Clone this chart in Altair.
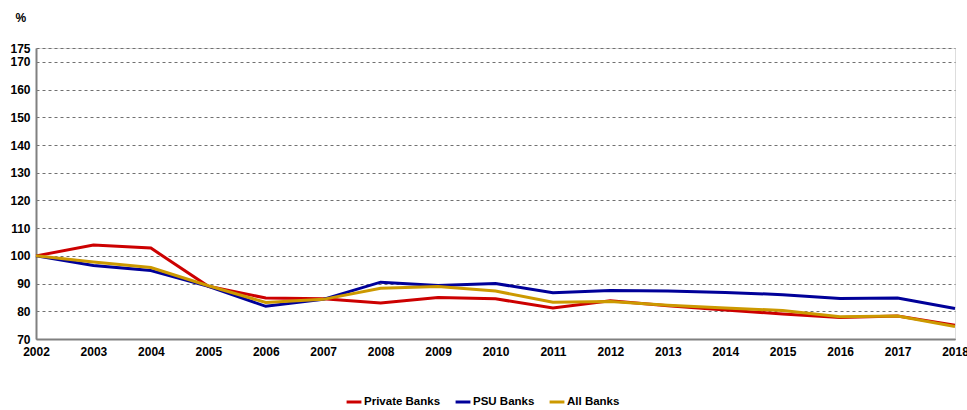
import altair as alt
import pandas as pd

years = list(range(2002, 2019))
private_banks = [100, 103.9, 102.8, 89.0, 84.8, 84.5, 83.0, 85.0, 84.5, 81.2, 83.8, 82.0, 80.5, 79.0, 77.8, 78.3, 75.0]
psu_banks = [100, 96.5, 94.7, 89.0, 81.8, 84.3, 90.5, 89.3, 90.0, 86.7, 87.5, 87.3, 86.8, 86.0, 84.6, 84.8, 81.0]
all_banks = [100, 97.8, 95.8, 89.2, 83.2, 84.3, 88.3, 88.9, 87.3, 83.3, 83.5, 82.2, 81.2, 80.3, 78.0, 78.3, 74.5]
series = ["Private Banks", "PSU Banks", "All Banks"]
colors = ["#cc0000", "#000099", "#cc9900"]
y_ticks = [70, 80, 90, 100, 110, 120, 130, 140, 150, 160, 170, 175]

rows = []
for name, vals in zip(series, [private_banks, psu_banks, all_banks]):
    for y, v in zip(years, vals):
        rows.append({"Year": y, "Value": v, "Series": name})
df = pd.DataFrame(rows)

FONT = "Liberation Sans"

chart = alt.Chart(df).mark_line(strokeWidth=3).encode(
    x=alt.X("Year:Q", scale=alt.Scale(domain=[2002, 2018], nice=False, zero=False),
            axis=alt.Axis(values=years, format="d", title=None, grid=False, ticks=False,
                          labelFont=FONT, labelFontWeight="bold", labelFontSize=12,
                          labelColor="#000", labelPadding=7, labelFlush=False,
                          domainColor="#808080", domainWidth=2, labelOverlap=False)),
    y=alt.Y("Value:Q", scale=alt.Scale(domain=[70, 175], nice=False, zero=False),
            axis=alt.Axis(values=y_ticks, title="%", titleAngle=0, titleX=-21, titleY=-31,
                          titleAlign="left", titleBaseline="middle", titleFont=FONT,
                          titleFontWeight="bold", titleFontSize=12, titleColor="#000",
                          grid=True, gridDash=[3, 3], gridColor="#707070", gridWidth=1,
                          ticks=False, labelFont=FONT, labelFontWeight="bold",
                          labelFontSize=12, labelColor="#000", labelPadding=6,
                          domainColor="#808080", domainWidth=2, labelOverlap=False)),
    color=alt.Color("Series:N", scale=alt.Scale(domain=series, range=colors),
                    sort=series,
                    legend=alt.Legend(title=None, orient="none", direction="horizontal",
                                      legendX=309, legendY=345, symbolType="stroke",
                                      symbolStrokeWidth=3, symbolSize=220,
                                      labelFont=FONT, labelFontWeight="bold",
                                      labelFontSize=11.5, labelColor="#000",
                                      columnPadding=8, labelOffset=1)),
).properties(
    width=919, height=291,
    padding={"left": 36, "top": 48, "right": 12, "bottom": 71},
    autosize=alt.AutoSizeParams(type="none"),
).configure_view(stroke=None).configure(background="white")

chart.save("out.html", embed_options={"renderer": "svg", "actions": False})
